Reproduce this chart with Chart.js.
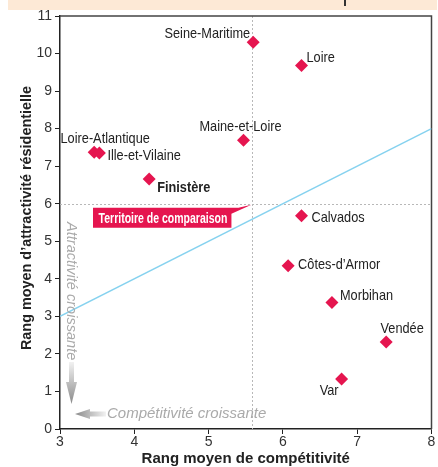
<!DOCTYPE html>
<html>
<head>
<meta charset="utf-8">
<script src="https://cdn.jsdelivr.net/npm/chart.js@4"></script>
<style>
  body { margin: 0; background: #fff; }
  #wrap { width: 438px; height: 467px; position: relative; }
</style>
</head>
<body>
<div id="wrap"><canvas id="scatterChart"></canvas></div>
<script>
// departments and their mean ranks
const names = ["Seine-Maritime", "Loire", "Maine-et-Loire", "Loire-Atlantique", "Ille-et-Vilaine",
  "Finistère", "Calvados", "Côtes-d’Armor", "Morbihan", "Vendée", "Var"];
const competitivite = [5.6, 6.25, 5.47, 3.46, 3.53, 4.2, 6.25, 6.07, 6.66, 7.39, 6.79];
const attractivite = [10.3, 9.68, 7.69, 7.37, 7.35, 6.66, 5.68, 4.35, 3.37, 2.32, 1.33];
const highlighted = "Finistère";

// reference territory and the diagonal y = x
const refX = 5.59;
const refY = 6;
const diagonal = [3, 8];

const xTicks = [3, 4, 5, 6, 7, 8];
const yTicks = [0, 1, 2, 3, 4, 5, 6, 7, 8, 9, 10, 11];

const FONT = '"Liberation Sans", Arial, sans-serif';
const RED = "#e5154f";

// label placement around each marker: [dx, dy, align]
const labelPos = {
  "Seine-Maritime": [-3, -8, "right"],
  "Loire": [5, -8, "left"],
  "Maine-et-Loire": [-3, -13, "center"],
  "Loire-Atlantique": [11, -13, "center"],
  "Ille-et-Vilaine": [8, 3, "left"],
  "Finistère": [8, 9, "left"],
  "Calvados": [10, 2, "left"],
  "Côtes-d’Armor": [10, -1, "left"],
  "Morbihan": [8, -7, "left"],
  "Vendée": [16, -13, "center"],
  "Var": [-3, 12, "right"],
};

// the original uses a condensed face; squeeze the regular one
function narrowText(ctx, text, x, y, align, sx, rot) {
  ctx.save();
  ctx.translate(x, y);
  if (rot) ctx.rotate(rot);
  ctx.scale(sx, 1);
  ctx.textAlign = align;
  ctx.fillText(text, 0, 0);
  ctx.restore();
}

const decor = {
  id: "decor",
  beforeDatasetsDraw(chart) {
    const { ctx, chartArea: a, scales: { x, y } } = chart;
    ctx.save();
    // peach header band
    ctx.fillStyle = "#fde9d6";
    ctx.fillRect(8, 0, 429, 10);
    ctx.fillStyle = "#333";
    ctx.fillRect(344, 0, 2, 6);
    // dotted reference lines
    ctx.strokeStyle = "#b8b8b8";
    ctx.lineWidth = 1;
    ctx.setLineDash([2, 2]);
    const px = Math.round(x.getPixelForValue(refX)) + 0.5;
    const py = Math.round(y.getPixelForValue(refY)) + 0.5;
    ctx.beginPath();
    ctx.moveTo(px, a.top); ctx.lineTo(px, a.bottom);
    ctx.moveTo(a.left, py); ctx.lineTo(a.right, py);
    ctx.stroke();
    ctx.setLineDash([]);
    // frame top and right
    ctx.strokeStyle = "#444";
    ctx.lineWidth = 1.5;
    ctx.beginPath();
    ctx.moveTo(a.left, a.top); ctx.lineTo(a.right, a.top); ctx.lineTo(a.right, a.bottom);
    ctx.stroke();
    ctx.restore();
  },
  afterDatasetsDraw(chart) {
    const { ctx, chartArea: a, scales: { x, y } } = chart;
    ctx.save();
    // point labels
    ctx.textBaseline = "middle";
    ctx.fillStyle = "#222";
    names.forEach((n, i) => {
      const p = labelPos[n];
      ctx.font = (n === highlighted ? "bold " : "") + "15px " + FONT;
      narrowText(ctx, n, x.getPixelForValue(competitivite[i]) + p[0],
        y.getPixelForValue(attractivite[i]) + p[1], p[2], 0.85);
    });

    // "Territoire de comparaison" tag pointing to the reference
    const tx = x.getPixelForValue(refX), ty = y.getPixelForValue(refY);
    ctx.fillStyle = RED;
    ctx.beginPath();
    ctx.moveTo(93, ty + 4);
    ctx.lineTo(tx - 14, ty + 4);
    ctx.lineTo(tx - 1, ty + 1);
    ctx.lineTo(tx - 21, ty + 10);
    ctx.lineTo(tx - 21, ty + 24);
    ctx.lineTo(93, ty + 24);
    ctx.closePath();
    ctx.fill();
    ctx.fillStyle = "#fff";
    ctx.font = "bold 14px " + FONT;
    narrowText(ctx, "Territoire de comparaison", 163, ty + 15, "center", 0.75);

    // gray arrows and captions
    ctx.fillStyle = "#aaa";
    ctx.font = "italic 15px " + FONT;
    narrowText(ctx, "Attractivité croissante", a.left + 11, 222, "left", 0.97, Math.PI / 2);
    narrowText(ctx, "Compétitivité croissante", 107, 414, "left", 1);

    let g = ctx.createLinearGradient(0, 362, 0, 404);
    g.addColorStop(0, "#f2f2f2");
    g.addColorStop(1, "#8a8a8a");
    ctx.fillStyle = g;
    ctx.fillRect(69, 362, 5, 22);
    ctx.beginPath();
    ctx.moveTo(66, 382); ctx.lineTo(77, 382); ctx.lineTo(71.5, 404); ctx.closePath();
    ctx.fill();

    g = ctx.createLinearGradient(106, 0, 75, 0);
    g.addColorStop(0, "#f2f2f2");
    g.addColorStop(1, "#8a8a8a");
    ctx.fillStyle = g;
    ctx.fillRect(88, 411.5, 18, 5);
    ctx.beginPath();
    ctx.moveTo(90, 409); ctx.lineTo(90, 419); ctx.lineTo(75, 414); ctx.closePath();
    ctx.fill();

    // axis titles
    ctx.fillStyle = "#222";
    ctx.font = "bold 15px " + FONT;
    narrowText(ctx, "Rang moyen de compétitivité", (a.left + a.right) / 2, 459, "center", 1);
    narrowText(ctx, "Rang moyen d’attractivité résidentielle", 27, 218, "center", 0.96, -Math.PI / 2);
    ctx.restore();
  },
};

const ctx = document.getElementById("scatterChart").getContext("2d");
new Chart(ctx, {
  type: "scatter",
  data: {
    datasets: [
      {
        type: "line",
        data: diagonal.map((v) => ({ x: v, y: v })),
        borderColor: "#86d2ef",
        borderWidth: 1.5,
        pointRadius: 0,
        order: 2,
      },
      {
        data: names.map((n, i) => ({ x: competitivite[i], y: attractivite[i] })),
        pointStyle: "rectRot",
        pointRadius: 6.5,
        backgroundColor: RED,
        borderColor: RED,
        borderWidth: 0,
        order: 1,
      },
    ],
  },
  options: {
    responsive: true,
    maintainAspectRatio: false,
    animation: false,
    layout: { padding: { top: 16, right: 3, left: 0, bottom: 0 } },
    plugins: { legend: { display: false }, tooltip: { enabled: false } },
    scales: {
      x: {
        type: "linear",
        min: 3,
        max: 8,
        afterBuildTicks: (s) => { s.ticks = xTicks.map((v) => ({ value: v })); },
        afterFit: (s) => { s.height = 38; },
        ticks: { color: "#333", font: { family: FONT, size: 14 }, padding: 0 },
        grid: { drawOnChartArea: false, tickLength: 5, tickColor: "#222" },
        border: { color: "#222", width: 1.5 },
      },
      y: {
        min: 0,
        max: 11,
        afterBuildTicks: (s) => { s.ticks = yTicks.map((v) => ({ value: v })); },
        afterFit: (s) => { s.width = 60; },
        ticks: { color: "#333", font: { family: FONT, size: 14 }, padding: 3 },
        grid: { drawOnChartArea: false, tickLength: 5, tickColor: "#222" },
        border: { color: "#222", width: 1.5 },
      },
    },
  },
  plugins: [decor],
});
</script>
</body>
</html>
